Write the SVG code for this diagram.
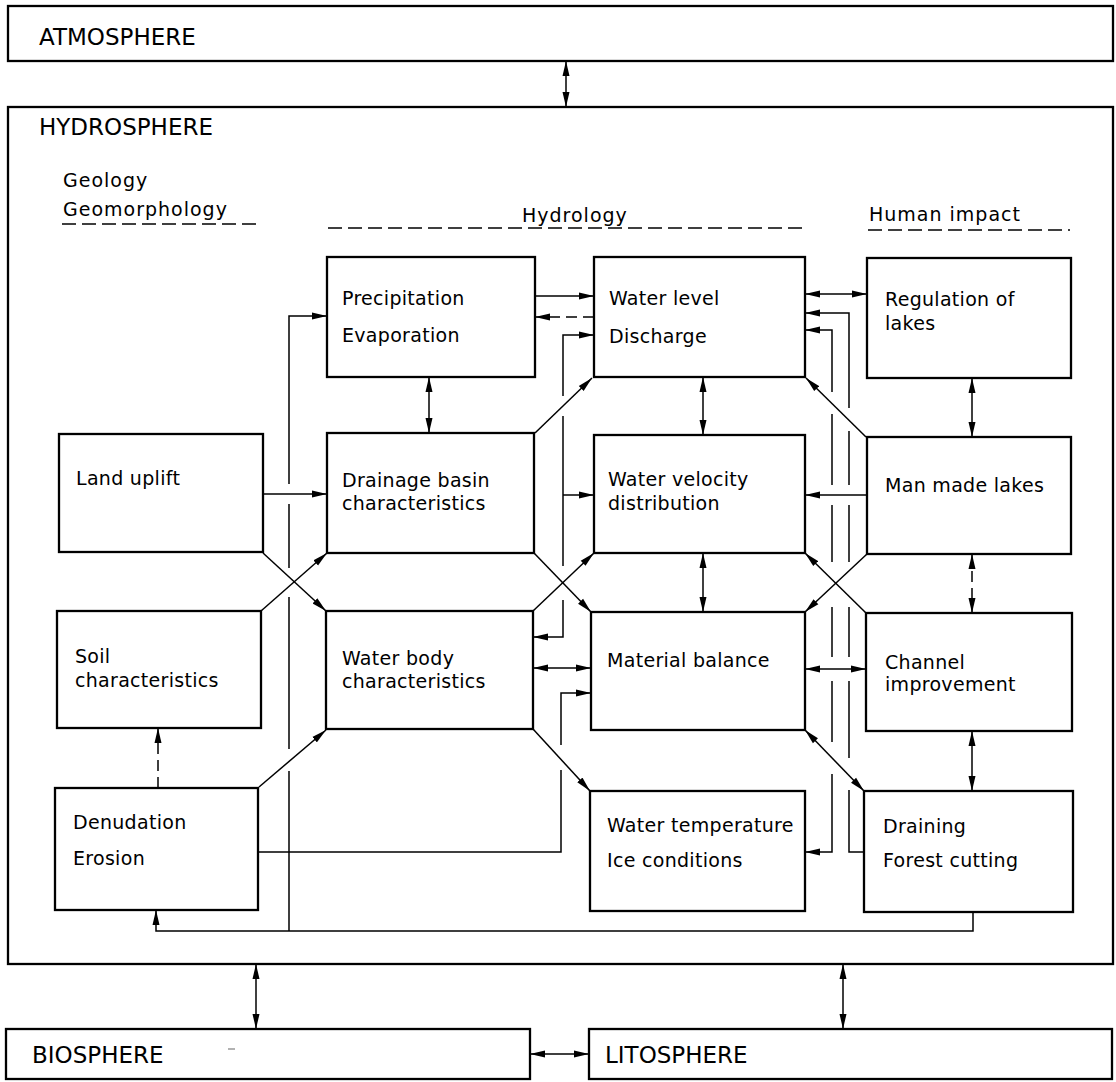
<svg xmlns="http://www.w3.org/2000/svg" width="1116" height="1082" viewBox="0 0 1116 1082">
<style>
.box{fill:#fff;stroke:#000;stroke-width:2.3}
.big{font-family:"DejaVu Sans",sans-serif;font-size:23px;fill:#000}
.hd{font-family:"DejaVu Sans",sans-serif;font-size:19px;letter-spacing:1px;fill:#000}
.t{font-family:"DejaVu Sans",sans-serif;font-size:19px;letter-spacing:0.3px;fill:#000}
.c{fill:none;stroke:#000;stroke-width:1.5}
.d{stroke-dasharray:11 6}
.u{fill:none;stroke:#000;stroke-width:1.6;stroke-dasharray:14 6}
</style>
<defs>
<marker id="a" viewBox="0 0 15 8" refX="15" refY="4" markerWidth="15" markerHeight="8" markerUnits="userSpaceOnUse" orient="auto-start-reverse">
<path d="M0,0.5 L15,4 L0,7.5 z" fill="#000"/>
</marker>
</defs>
<rect width="1116" height="1082" fill="#fff"/>

<g id="atmosphere"><rect class="box" x="8" y="6" width="1105" height="55"/><text class="big" x="39" y="45">ATMOSPHERE</text></g>
<g id="hydrosphere"><rect class="box" x="8" y="107" width="1105" height="857"/><text class="big" x="39" y="135">HYDROSPHERE</text></g>
<g id="biosphere"><rect class="box" x="6" y="1029" width="524" height="50"/><text class="big" x="32" y="1063">BIOSPHERE</text><line x1="228" y1="1049" x2="235" y2="1049" stroke="#999" stroke-width="1.5"/></g>
<g id="litosphere"><rect class="box" x="589" y="1029" width="523" height="50"/><text class="big" x="605" y="1063">LITOSPHERE</text></g>

<g id="headings">
<text class="hd" x="63" y="187">Geology</text>
<text class="hd" x="63" y="216">Geomorphology</text>
<line class="u" x1="62" y1="224" x2="257" y2="224"/>
<text class="hd" x="522" y="222">Hydrology</text>
<line class="u" x1="328" y1="228" x2="805" y2="228"/>
<text class="hd" x="869" y="221">Human impact</text>
<line class="u" x1="868" y1="230" x2="1070" y2="230"/>
</g>

<g id="connectors">
<path class="c" d="M566,61 V107" marker-start="url(#a)" marker-end="url(#a)"/>
<path class="c" d="M256,964 V1029" marker-start="url(#a)" marker-end="url(#a)"/>
<path class="c" d="M843,964 V1029" marker-start="url(#a)" marker-end="url(#a)"/>
<path class="c" d="M530,1054 H589" marker-start="url(#a)" marker-end="url(#a)"/>

<path class="c" d="M263,494 H327" marker-end="url(#a)"/>
<path class="c" d="M263,553 L326,611" marker-end="url(#a)"/>
<path class="c" d="M261,611 L327,553" marker-end="url(#a)"/>
<path class="c" d="M259,787 L326,730" marker-end="url(#a)"/>
<path class="c d" d="M158,788 V728" marker-end="url(#a)"/>
<path class="c" d="M258,852 H561 V770"/>
<path class="c" d="M561,745 V693 H591" marker-end="url(#a)"/>

<path class="c" d="M973,912 V931 H156 V910" marker-end="url(#a)"/>
<path class="c" d="M289,931 V771 M289,749 V597 M289,568 V504"/>
<path class="c" d="M289,484 V316 H327" marker-end="url(#a)"/>

<path class="c" d="M535,296 H594" marker-end="url(#a)"/>
<path class="c d" d="M594,317 H535" marker-end="url(#a)"/>
<path class="c" d="M429,377 V433" marker-start="url(#a)" marker-end="url(#a)"/>
<path class="c" d="M535,433 L592,378" marker-end="url(#a)"/>
<path class="c" d="M534,553 L591,612" marker-end="url(#a)"/>
<path class="c" d="M533,611 L594,553" marker-end="url(#a)"/>
<path class="c" d="M533,729 L590,791" marker-end="url(#a)"/>
<path class="c" d="M533,668 H591" marker-start="url(#a)" marker-end="url(#a)"/>

<path class="c" d="M594,335 H563 V396" marker-start="url(#a)"/>
<path class="c" d="M563,416 V566"/>
<path class="c" d="M563,600 V637 H533" marker-end="url(#a)"/>
<path class="c" d="M563,495 H594" marker-end="url(#a)"/>

<path class="c" d="M703,377 V435" marker-start="url(#a)" marker-end="url(#a)"/>
<path class="c" d="M703,553 V612" marker-start="url(#a)" marker-end="url(#a)"/>

<path class="c" d="M805,294 H867" marker-start="url(#a)" marker-end="url(#a)"/>
<path class="c" d="M864,852 H849 V790 M849,758 V681 M849,657 V607 M849,562 V505 M849,485 V431"/>
<path class="c" d="M849,408 V313 H805" marker-end="url(#a)"/>
<path class="c" d="M805,330 H832 V392" marker-start="url(#a)"/>
<path class="c" d="M832,414 V485 M832,505 V562 M832,607 V657 M832,681 V742"/>
<path class="c" d="M832,774 V852 H805" marker-end="url(#a)"/>

<path class="c" d="M866,437 L806,378" marker-end="url(#a)"/>
<path class="c" d="M867,495 H805" marker-end="url(#a)"/>
<path class="c" d="M867,554 L805,612" marker-end="url(#a)"/>
<path class="c" d="M866,613 L805,553" marker-end="url(#a)"/>
<path class="c" d="M805,669 H866" marker-start="url(#a)" marker-end="url(#a)"/>
<path class="c" d="M805,730 L864,791" marker-start="url(#a)" marker-end="url(#a)"/>

<path class="c" d="M972,378 V437" marker-start="url(#a)" marker-end="url(#a)"/>
<path class="c d" d="M972,554 V613" marker-start="url(#a)" marker-end="url(#a)"/>
<path class="c" d="M972,731 V791" marker-start="url(#a)" marker-end="url(#a)"/>
</g>

<g id="land-uplift"><rect class="box" x="59" y="434" width="204" height="118"/><text class="t" x="76" y="485">Land uplift</text></g>
<g id="soil"><rect class="box" x="57" y="611" width="204" height="117"/><text class="t" x="75" y="663">Soil</text><text class="t" x="75" y="687">characteristics</text></g>
<g id="denudation"><rect class="box" x="55" y="788" width="203" height="122"/><text class="t" x="73" y="829">Denudation</text><text class="t" x="73" y="865">Erosion</text></g>

<g id="precipitation"><rect class="box" x="327" y="257" width="208" height="120"/><text class="t" x="342" y="305">Precipitation</text><text class="t" x="342" y="342">Evaporation</text></g>
<g id="drainage"><rect class="box" x="327" y="433" width="207" height="120"/><text class="t" x="342" y="487">Drainage basin</text><text class="t" x="342" y="510">characteristics</text></g>
<g id="water-body"><rect class="box" x="326" y="611" width="207" height="118"/><text class="t" x="342" y="665">Water body</text><text class="t" x="342" y="688">characteristics</text></g>

<g id="water-level"><rect class="box" x="594" y="257" width="211" height="120"/><text class="t" x="609" y="305">Water level</text><text class="t" x="609" y="343">Discharge</text></g>
<g id="water-velocity"><rect class="box" x="594" y="435" width="211" height="118"/><text class="t" x="608" y="486">Water velocity</text><text class="t" x="608" y="510">distribution</text></g>
<g id="material-balance"><rect class="box" x="591" y="612" width="214" height="118"/><text class="t" x="607" y="667">Material balance</text></g>
<g id="water-temperature"><rect class="box" x="590" y="791" width="215" height="120"/><text class="t" x="607" y="832">Water temperature</text><text class="t" x="607" y="867">Ice conditions</text></g>

<g id="regulation"><rect class="box" x="867" y="258" width="204" height="120"/><text class="t" x="885" y="306">Regulation of</text><text class="t" x="885" y="330">lakes</text></g>
<g id="man-made-lakes"><rect class="box" x="867" y="437" width="204" height="117"/><text class="t" x="885" y="492">Man made lakes</text></g>
<g id="channel"><rect class="box" x="866" y="613" width="206" height="118"/><text class="t" x="885" y="669">Channel</text><text class="t" x="885" y="691">improvement</text></g>
<g id="draining"><rect class="box" x="864" y="791" width="209" height="121"/><text class="t" x="883" y="833">Draining</text><text class="t" x="883" y="867">Forest cutting</text></g>
</svg>
